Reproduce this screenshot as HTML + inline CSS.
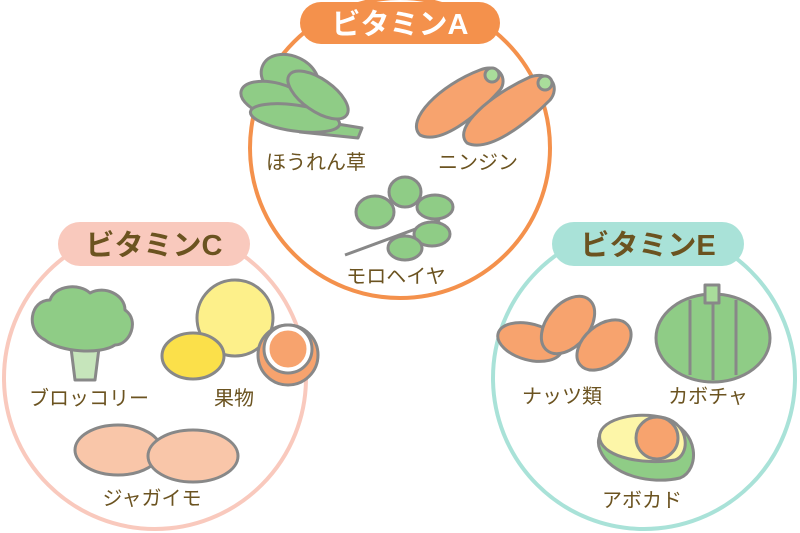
<!DOCTYPE html>
<html><head><meta charset="utf-8"><style>
html,body{margin:0;padding:0;background:#fff;width:800px;height:533px;overflow:hidden}
text{font-family:"Liberation Sans","Noto Sans CJK JP",sans-serif}
</style></head><body>
<svg width="800" height="533" viewBox="0 0 800 533" xmlns="http://www.w3.org/2000/svg">
<g fill="none" stroke-width="4">
<circle cx="400" cy="148" r="150" stroke="#f4914c"/>
<circle cx="155" cy="378" r="151" stroke="#f9c9bd"/>
<circle cx="644" cy="378" r="151" stroke="#a9e2d8"/>
</g>
<rect x="300" y="2" width="200" height="42" rx="21" fill="#f4914c"/>
<text x="400" y="34" font-size="29" font-weight="bold" fill="#fff" text-anchor="middle">ビタミンA</text>
<rect x="58" y="222" width="192" height="44" rx="22" fill="#f9c9bd"/>
<text x="154" y="255" font-size="29" font-weight="bold" fill="#6b5320" text-anchor="middle">ビタミンC</text>
<rect x="552" y="222" width="192" height="44" rx="22" fill="#a9e2d8"/>
<text x="648" y="255" font-size="29" font-weight="bold" fill="#6b5320" text-anchor="middle">ビタミンE</text>

<g stroke="#888" stroke-width="3" stroke-linejoin="round">
<!-- spinach -->
<path d="M300 118 L362 128 L358 138 L300 132Z" fill="#8fcc86"/>
<ellipse cx="290" cy="78" rx="30" ry="22" fill="#8fcc86" transform="rotate(25 290 78)"/>
<ellipse cx="275" cy="100" rx="35" ry="17" fill="#8fcc86" transform="rotate(15 275 100)"/>
<ellipse cx="295" cy="118" rx="45" ry="13" fill="#8fcc86" transform="rotate(8 295 118)"/>
<ellipse cx="318" cy="95" rx="35" ry="16" fill="#8fcc86" transform="rotate(35 318 95)"/>
<!-- carrots -->
<path d="M420 135 C405 120 440 85 480 70 C500 62 508 80 500 90 C475 118 440 145 420 135Z" fill="#f7a36e"/>
<path d="M467 143 C452 128 490 95 530 77 C552 70 560 88 550 100 C525 125 488 153 467 143Z" fill="#f7a36e"/>
<circle cx="492" cy="75" r="7" fill="#a9dd9b"/><circle cx="545" cy="83" r="7" fill="#a9dd9b"/>
<!-- molokheiya -->
<path d="M345 255 L440 220" fill="none"/>
<ellipse cx="375" cy="212" rx="19" ry="16" fill="#8fcc86"/>
<ellipse cx="405" cy="192" rx="16" ry="15" fill="#8fcc86"/>
<ellipse cx="435" cy="207" rx="18" ry="12" fill="#8fcc86"/>
<ellipse cx="432" cy="234" rx="18" ry="12" fill="#8fcc86"/>
<ellipse cx="405" cy="248" rx="17" ry="12" fill="#8fcc86"/>
<!-- broccoli -->
<path d="M70 340 L75 380 L95 380 L100 340Z" fill="#c6e5bb"/>
<path d="M45 340 C25 330 30 300 50 300 C55 285 80 283 90 293 C105 285 125 295 125 310 C140 320 130 345 115 345 C100 355 60 352 45 340Z" fill="#8fcc86"/>
<!-- fruits -->
<circle cx="235" cy="318" r="38" fill="#fdf08a"/>
<ellipse cx="193" cy="356" rx="31" ry="23" fill="#fbe04a"/>
<circle cx="288" cy="355" r="30" fill="#f7a36e"/>
<circle cx="288" cy="349" r="24" fill="#fff"/>
<circle cx="288" cy="349" r="20" fill="#f7a36e" stroke="#fff"/>
<!-- potatoes -->
<ellipse cx="118" cy="450" rx="43" ry="25" fill="#f9c6a9"/>
<ellipse cx="193" cy="456" rx="45" ry="26" fill="#f9c6a9"/>
<!-- nuts -->
<ellipse cx="530" cy="342" rx="33" ry="18" fill="#f7a36e" transform="rotate(15 530 342)"/>
<ellipse cx="568" cy="325" rx="21" ry="33" fill="#f7a36e" transform="rotate(40 568 325)"/>
<ellipse cx="604" cy="345" rx="20" ry="31" fill="#f7a36e" transform="rotate(50 604 345)"/>
<!-- pumpkin -->
<ellipse cx="713" cy="338" rx="57" ry="44" fill="#8fcc86"/>
<path d="M690 300 V375 M736 300 V375 M713 300 V380" fill="none"/>
<rect x="705" y="285" width="14" height="18" fill="#a9dd9b"/>
<!-- avocado -->
<path d="M600 450 C590 425 630 410 665 420 C700 430 700 470 680 478 C650 485 610 475 600 450Z" fill="#8fcc86"/>
<path d="M600 440 C595 420 635 410 665 418 C690 425 690 455 675 460 C645 465 605 458 600 440Z" fill="#fdf6a8"/>
<circle cx="657" cy="438" r="21" fill="#f7a36e"/>
</g>

<g font-size="20" fill="#6b5320" text-anchor="middle">
<text x="316" y="169">ほうれん草</text>
<text x="478" y="169">ニンジン</text>
<text x="396" y="283">モロヘイヤ</text>
<text x="89" y="405">ブロッコリー</text>
<text x="234" y="405">果物</text>
<text x="152" y="505">ジャガイモ</text>
<text x="562" y="403">ナッツ類</text>
<text x="708" y="403">カボチャ</text>
<text x="642" y="507">アボカド</text>
</g>
</svg>
</body></html>
